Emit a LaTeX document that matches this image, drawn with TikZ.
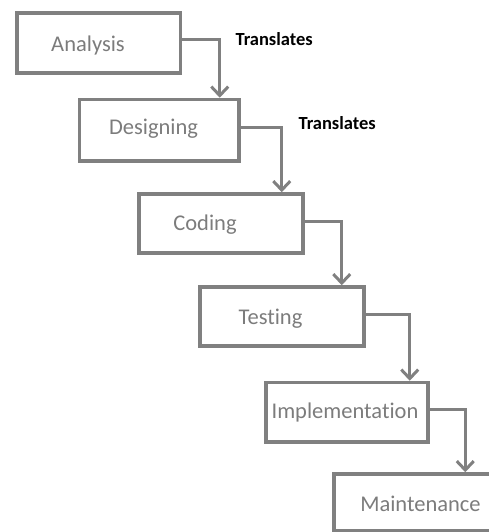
\documentclass[tikz,border=0pt]{standalone}
\usepackage{fontspec}
\setmainfont{Carlito}[Ligatures=NoCommon]
\usetikzlibrary{arrows.meta}
\definecolor{boxgray}{HTML}{808080}
\definecolor{txtgray}{HTML}{7C7C7C}
\begin{document}
\begin{tikzpicture}
[
	x=1pt,y=-1pt,
	stage/.style={rectangle,draw=boxgray,line width=3.5,inner sep=0},
	txt/.style={anchor=base,text=txtgray,font=\fontsize{22.5}{26}\selectfont},
	note/.style={anchor=base west,font=\bfseries\fontsize{18.5}{21}\selectfont},
	flow/.style={draw=boxgray,line width=3,-{Straight Barb[length=9pt,width=17pt,line width=3pt]}}
]

\useasboundingbox (0,0) rectangle (489,532);
\clip (0,0) rectangle (489,532);

\node[stage,minimum width=163.5,minimum height=60] (ana) at (98.75,43) {};
\node[stage,minimum width=159.5,minimum height=61.5] (des) at (159.25,130.25) {};
\node[stage,minimum width=164,minimum height=59] (cod) at (221,223.5) {};
\node[stage,minimum width=164,minimum height=59] (tst) at (282,316.5) {};
\node[stage,minimum width=162,minimum height=59.5] (imp) at (347,412.25) {};
\node[stage,minimum width=191,minimum height=57] (mnt) at (429.5,502.5) {};

\node[txt] (ana-t) at (88,52) {Analysis};
\node[txt] (des-t) at (153.5,135) {Designing};
\node[txt] (cod-t) at (205,230) {Coding};
\node[txt] (tst-t) at (270.5,324) {Testing};
\node[txt] (imp-t) at (345,418.5) {Implementation};
\node[txt] (mnt-t) at (420.5,511.5) {Maintenance};

\node[note] (tr1) at (232,46) {Translates};
\node[note] (tr2) at (295,129) {Translates};

\draw[flow] ([yshift=3pt]ana.east) -| ([xshift=-21pt]des.north east);
\draw[flow] ([yshift=3pt]des.east) -| ([xshift=-23pt]cod.north east);
\draw[flow] ([yshift=2pt]cod.east) -| ([xshift=-24pt]tst.north east);
\draw[flow] ([yshift=2pt]tst.east) -| ([xshift=-20pt]imp.north east);
\draw[flow] ([yshift=3pt]imp.east) -| ([xshift=133pt]mnt.north west);

\end{tikzpicture}
\end{document}
